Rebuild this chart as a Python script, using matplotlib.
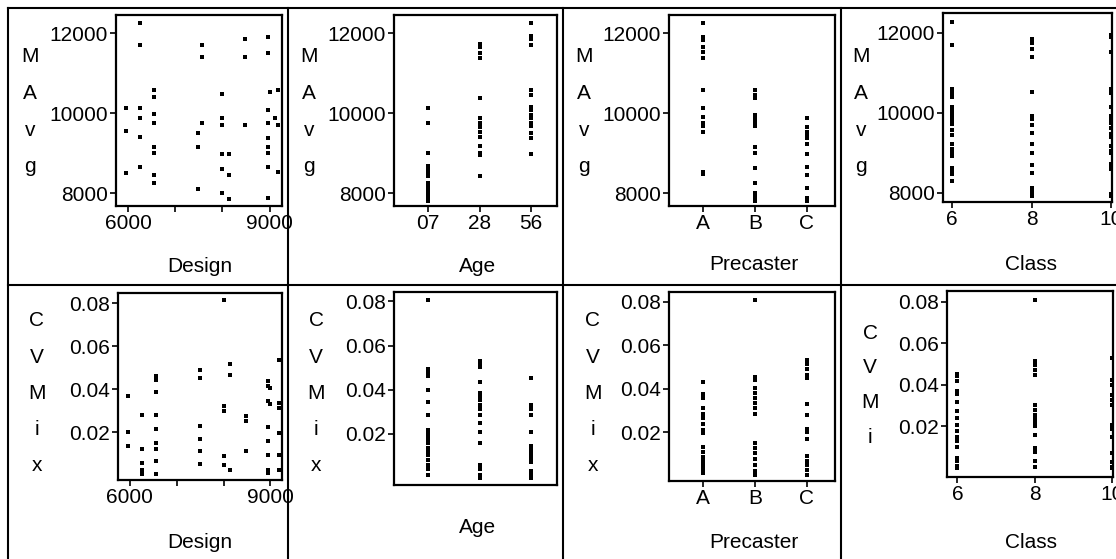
import matplotlib
matplotlib.use("Agg")
import matplotlib.pyplot as plt
from matplotlib.lines import Line2D

W, H = 1116, 559
plt.rcParams['font.family'] = ['Liberation Sans', 'DejaVu Sans']
plt.rcParams['font.size'] = 15

# ---- data ----
design_mavg_x = [5950, 5950, 5950,
                 6250, 6250, 6250, 6250, 6250, 6250,
                 6550, 6550, 6550, 6550, 6550, 6550, 6550, 6550,
                 7490, 7490, 7490, 7560, 7560, 7560,
                 8000, 8000, 8000, 8000, 8000, 8000,
                 8130, 8130, 8130, 8480, 8480, 8480,
                 8960, 8960, 8960, 8960, 8960, 8960, 8960, 8960, 8960,
                 9000, 9120, 9190, 9190, 9190]
design_mavg_y = [10125, 9560, 8500,
                 12270, 11710, 10125, 9875, 9420, 8670,
                 10580, 10400, 9975, 9770, 9170, 9000, 8460, 8250,
                 9500, 9170, 8100, 11710, 11400, 9770,
                 10475, 9875, 9710, 8975, 8610, 8000,
                 8975, 8460, 7850, 11850, 11400, 9710,
                 11900, 11500, 10080, 9770, 9375, 9170, 9000, 8670, 7875,
                 10540, 9875, 10580, 9700, 8540]

design_cv_x = [5950, 5950, 5950,
               6250, 6250, 6250, 6250, 6250, 6250,
               6550, 6550, 6550, 6550, 6550, 6550, 6550, 6550, 6550,
               7490, 7490, 7490, 7490, 7490, 7490,
               8000, 8000, 8000, 8000, 8000,
               8130, 8130, 8130, 8480, 8480, 8480,
               8960, 8960, 8960, 8960, 8960, 8960, 8960, 8960,
               9000, 9000,
               9190, 9190, 9190, 9190, 9190, 9190]
design_cv_y = [0.0366, 0.0200, 0.0133,
               0.0281, 0.0123, 0.0056, 0.0025, 0.0014, 0.0004,
               0.0459, 0.0443, 0.0385, 0.0281, 0.0216, 0.0149, 0.0123, 0.0064, 0.0004,
               0.0490, 0.0451, 0.0226, 0.0169, 0.0110, 0.0051,
               0.0816, 0.0320, 0.0296, 0.0087, 0.0049,
               0.0516, 0.0467, 0.0025, 0.0273, 0.0253, 0.0110,
               0.0436, 0.0413, 0.0346, 0.0222, 0.0157, 0.0093, 0.0023, 0.0008,
               0.0403, 0.0329,
               0.0535, 0.0333, 0.0310, 0.0197, 0.0093, 0.0023]

age_labels = ['07', '28', '56']
mavg_age07 = [10125, 9750, 9017, 8692, 8608, 8525, 8442, 8250, 8150, 8067, 7983, 7900, 7817]
mavg_age28 = [11725, 11650, 11500, 11375, 10375, 9875, 9767, 9667, 9542, 9417, 9183, 9017, 8958, 8442]
mavg_age56 = [12267, 11933, 11850, 11708, 10583, 10458, 10150, 10083, 9958, 9875, 9767, 9683, 9517, 9375, 8975]
cv_age07 = [0.0808, 0.0495, 0.0480, 0.0460, 0.0400, 0.0345, 0.0287, 0.0220, 0.0204, 0.0189,
            0.0174, 0.0159, 0.0137, 0.0121, 0.0106, 0.0084, 0.0061, 0.0043, 0.0016]
cv_age28 = [0.0529, 0.0513, 0.0501, 0.0435, 0.0385, 0.0370, 0.0355, 0.0332, 0.0314, 0.0287,
            0.0250, 0.0209, 0.0159, 0.0058, 0.0043, 0.0016, 0.0001]
cv_age56 = [0.0453, 0.0330, 0.0314, 0.0284, 0.0209, 0.0144, 0.0129, 0.0109, 0.0091, 0.0073,
            0.0034, 0.0016, 0.0001]

precaster_labels = ['A', 'B', 'C']
mavg_prec_a = [12267, 11900, 11833, 11667, 11542, 11375, 10583, 10125, 9917, 9767, 9683, 9542, 8542, 8483]
mavg_prec_b = [10583, 10458, 10375, 9958, 9875, 9792, 9683, 9167, 9000, 8625, 8267, 8017, 7917, 7817]
mavg_prec_c = [9875, 9667, 9542, 9458, 9375, 9233, 8983, 8667, 8458, 8125, 7875, 7817]
cv_prec_a = [0.0433, 0.0374, 0.0355, 0.0309, 0.0284, 0.0265, 0.0237, 0.0211, 0.0195, 0.0129,
             0.0107, 0.0087, 0.0067, 0.0048, 0.0029, 0.0009]
cv_prec_b = [0.0810, 0.0456, 0.0441, 0.0402, 0.0379, 0.0355, 0.0332, 0.0309, 0.0285, 0.0151,
             0.0126, 0.0105, 0.0077, 0.0046, 0.0018, 0.0003]
cv_prec_c = [0.0532, 0.0512, 0.0490, 0.0462, 0.0447, 0.0327, 0.0278, 0.0216, 0.0198, 0.0170,
             0.0089, 0.0064, 0.0046, 0.0023, 0.0002]

class_values = [6, 8, 10]
mavg_class6 = [12267, 11683, 10583, 10483, 10400, 10150, 10083, 10000, 9900, 9817, 9708, 9567,
               9433, 9208, 9100, 9000, 8917, 8625, 8542, 8458, 8292]
mavg_class8 = [11850, 11750, 11600, 11400, 10517, 9917, 9833, 9683, 9500, 9208, 9000, 8683,
               8500, 8125, 8067, 7983, 7917]
mavg_class10 = [11933, 11900, 11517, 10583, 10500, 10150, 9917, 9833, 9750, 9625, 9458, 9400,
                9167, 9042, 9000, 8725, 8667, 8583, 7958, 7917]
cv_class6 = [0.0452, 0.0441, 0.0417, 0.0372, 0.0356, 0.0317, 0.0275, 0.0240, 0.0208, 0.0179,
             0.0147, 0.0127, 0.0098, 0.0047, 0.0031, 0.0007, 0.0000]
cv_class8 = [0.0811, 0.0517, 0.0494, 0.0473, 0.0449, 0.0301, 0.0280, 0.0256, 0.0240, 0.0221,
             0.0200, 0.0157, 0.0095, 0.0076, 0.0034, 0.0001]
cv_class10 = [0.0528, 0.0424, 0.0399, 0.0351, 0.0327, 0.0303, 0.0206, 0.0185, 0.0150, 0.0069,
              0.0029, 0.0005, 0.0000]

fig = plt.figure(figsize=(W / 100, H / 100), dpi=100)


def add_box(l, t, r, b):
    ax = fig.add_axes([l / W, 1 - b / H, (r - l) / W, (b - t) / H])
    for s in ax.spines.values():
        s.set_linewidth(1.6)
    ax.tick_params(direction='out', length=4, width=1.2, pad=2, labelsize=15)
    return ax


def dots(ax, x, y):
    ax.plot(x, y, 's', color='black', markersize=2.7, markeredgewidth=0)


def letters(x, baselines, chars):
    for y, ch in zip(baselines, chars):
        fig.text(x / W, 1 - y / H, ch, ha='center', va='baseline', fontsize=15)


def xlabel(x, y, s):
    fig.text(x / W, 1 - y / H, s, ha='center', va='baseline', fontsize=15)


top_letters = [62, 99, 136, 172]
bot_letters = [326, 363, 399, 435, 471]

# ---- top row: MAvg ----
ax = add_box(116, 15, 282, 206)
dots(ax, design_mavg_x, design_mavg_y)
ax.set_xlim(5740, 9265)
ax.set_xticks([6000, 7000, 8000, 9000], ['6000', '', '', '9000'])
ax.set_ylim(7683, 12458)
ax.set_yticks([8000, 10000, 12000])
letters(30, top_letters, 'MAvg')
xlabel(200, 272, 'Design')

ax = add_box(394, 15, 557, 206)
for i, vals in enumerate([mavg_age07, mavg_age28, mavg_age56]):
    dots(ax, [i + 1] * len(vals), vals)
ax.set_xlim(0.34, 3.5)
ax.set_xticks([1, 2, 3], age_labels)
ax.set_ylim(7683, 12458)
ax.set_yticks([8000, 10000, 12000])
letters(309, top_letters, 'MAvg')
xlabel(478, 272, 'Age')

ax = add_box(669, 15, 835, 206)
for i, vals in enumerate([mavg_prec_a, mavg_prec_b, mavg_prec_c]):
    dots(ax, [i + 1] * len(vals), vals)
ax.set_xlim(0.35, 3.54)
ax.set_xticks([1, 2, 3], precaster_labels)
ax.set_ylim(7683, 12458)
ax.set_yticks([8000, 10000, 12000])
letters(584, top_letters, 'MAvg')
xlabel(754, 270, 'Precaster')

ax = add_box(943, 13, 1112, 202)
for c, vals in zip(class_values, [mavg_class6, mavg_class8, mavg_class10]):
    dots(ax, [c] * len(vals), vals)
ax.set_xlim(5.77, 10.02)
ax.set_xticks(class_values)
ax.set_ylim(7767, 12492)
ax.set_yticks([8000, 10000, 12000])
letters(861, top_letters, 'MAvg')
xlabel(1031, 270, 'Class')

# ---- bottom row: CVMix ----
cv_ticks = [0.02, 0.04, 0.06, 0.08]

ax = add_box(118, 293, 282, 480)
dots(ax, design_cv_x, design_cv_y)
ax.set_xlim(5745, 9250)
ax.set_xticks([6000, 7000, 8000, 9000], ['6000', '', '', '9000'])
ax.set_ylim(-0.0023, 0.0847)
ax.set_yticks(cv_ticks, ['0.02', '0.04', '0.06', '0.08'])
letters(37, bot_letters, 'CVMix')
xlabel(200, 548, 'Design')

ax = add_box(394, 292, 557, 485)
for i, vals in enumerate([cv_age07, cv_age28, cv_age56]):
    dots(ax, [i + 1] * len(vals), vals)
ax.set_xlim(0.34, 3.5)
ax.set_xticks([])
ax.set_ylim(-0.0031, 0.0842)
ax.set_yticks(cv_ticks, ['0.02', '0.04', '0.06', '0.08'])
letters(316, bot_letters, 'CVMix')
xlabel(478, 533, 'Age')

ax = add_box(669, 292, 835, 481)
for i, vals in enumerate([cv_prec_a, cv_prec_b, cv_prec_c]):
    dots(ax, [i + 1] * len(vals), vals)
ax.set_xlim(0.35, 3.54)
ax.set_xticks([1, 2, 3], precaster_labels)
ax.set_ylim(-0.0026, 0.0846)
ax.set_yticks(cv_ticks, ['0.02', '0.04', '0.06', '0.08'])
letters(593, bot_letters, 'CVMix')
xlabel(754, 548, 'Precaster')

ax = add_box(947, 291, 1113, 477)
for c, vals in zip(class_values, [cv_class6, cv_class8, cv_class10]):
    dots(ax, [c] * len(vals), vals)
ax.set_xlim(5.73, 10.02)
ax.set_xticks(class_values)
ax.set_ylim(-0.0045, 0.0853)
ax.set_yticks(cv_ticks, ['0.02', '0.04', '0.06', '0.08'])
letters(870, [339, 373, 408, 443], 'CVMi')
xlabel(1031, 548, 'Class')

# ---- cell borders ----
def hline(y, x0=8, x1=W):
    fig.add_artist(Line2D([x0 / W, x1 / W], [1 - y / H, 1 - y / H],
                          transform=fig.transFigure, color='black', lw=1.5))


def vline(x, y0=8, y1=H):
    fig.add_artist(Line2D([x / W, x / W], [1 - y0 / H, 1 - y1 / H],
                          transform=fig.transFigure, color='black', lw=1.5))


hline(8)
hline(285)
for xv in [8, 288, 563, 841]:
    vline(xv)

fig.savefig('out.png', dpi=100)
